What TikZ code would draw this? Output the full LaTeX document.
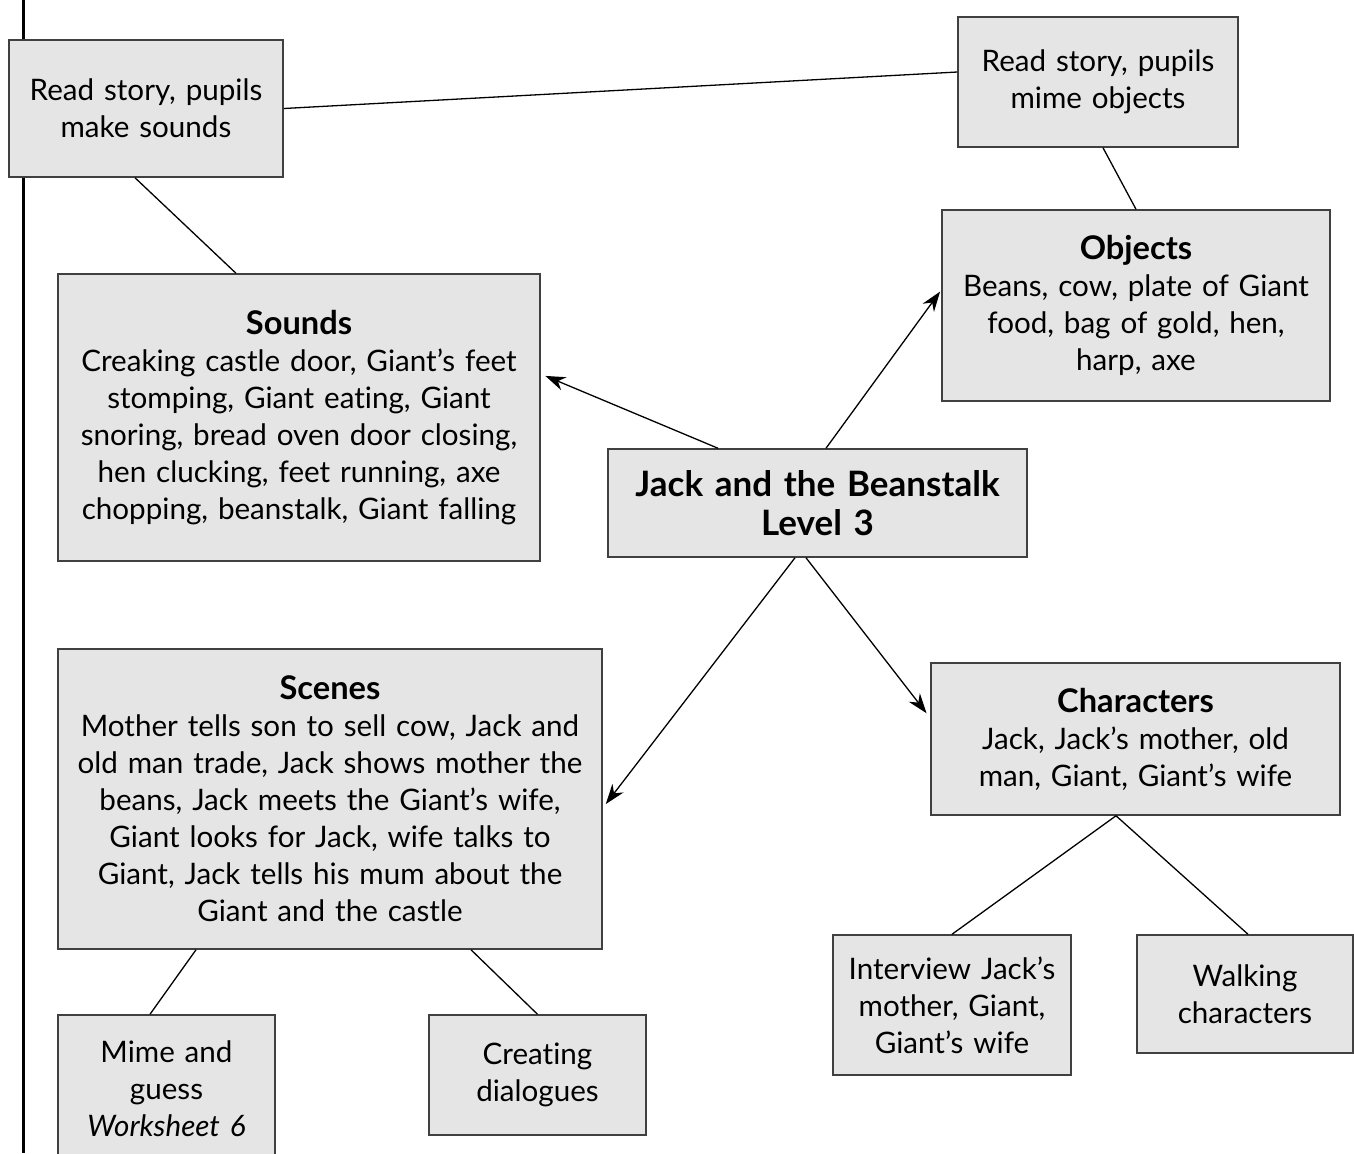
\documentclass[tikz,border=0pt]{standalone}
\usepackage{fontspec}
\setmainfont{Lato}[Ligatures={TeX,NoCommon}]
\usetikzlibrary{arrows.meta}
\definecolor{boxfill}{gray}{0.9}
\newcommand{\boxtitle}[1]{{\fontsize{16.3}{18.5}\selectfont\bfseries #1}}
\begin{document}
\begin{tikzpicture}[x=0.5pt,y=-0.5pt,>={Stealth[length=10pt,width=7pt]},
	font=\fontsize{14.8}{18.5}\selectfont,
	box/.style={draw=black!75,line width=0.75pt,fill=boxfill,inner sep=0pt,align=center},
	link/.style={line width=0.65pt}]
			\clip (0,0) rectangle (1354,1153);
			\draw[line width=1.5pt] (23,0) -- (23,1153);
			% boxes
			\node[box,text width=137pt,minimum height=68.5pt] (readsnd) at (146,108.5) {Read story, pupils\\make sounds};
			\node[box,text width=140pt,minimum height=65pt] (readmime) at (1098,82) {Read story, pupils\\mime objects};
			\node[box,text width=194pt,minimum height=95.5pt] (objects) at (1136,305.5) {\boxtitle{Objects}\\Beans, cow, plate of Giant\\food, bag of gold, hen,\\harp, axe};
			\node[box,text width=241pt,minimum height=143.5pt] (sounds) at (299,417.5) {\boxtitle{Sounds}\\Creaking castle door, Giant's feet\\stomping, Giant eating, Giant\\snoring, bread oven door closing,\\hen clucking, feet running, axe\\chopping, beanstalk, Giant falling};
			\node[box,text width=209.5pt,minimum height=54pt,font=\fontsize{17.5}{19.5}\selectfont\bfseries] (jack) at (817.5,503) {Jack and the Beanstalk\\Level 3};
			\node[box,text width=272pt,minimum height=150pt] (scenes) at (330,799) {\boxtitle{Scenes}\\Mother tells son to sell cow, Jack and\\old man trade, Jack shows mother the\\beans, Jack meets the Giant's wife,\\Giant looks for Jack, wife talks to\\Giant, Jack tells his mum about the\\Giant and the castle};
			\node[box,text width=204.5pt,minimum height=76pt] (chars) at (1135.5,739) {\boxtitle{Characters}\\Jack, Jack's mother, old\\man, Giant, Giant's wife};
			\node[box,text width=108.5pt,minimum height=74pt] (mime) at (166.5,1089) {Mime and\\guess\\\textit{Worksheet 6}};
			\node[box,text width=108.5pt,minimum height=60pt] (dialog) at (537.5,1075) {Creating\\dialogues};
			\node[box,text width=119pt,minimum height=70pt] (interview) at (952,1005) {Interview Jack's\\mother, Giant,\\Giant's wife};
			\node[box,text width=108pt,minimum height=59pt] (walking) at (1245,994) {Walking\\characters};
			% plain links
			\draw[link] (readsnd.east) -- ([yshift=5pt]readmime.west);
			\draw[link] ([xshift=-5.5pt]readsnd.south) -- ([xshift=-31.5pt]sounds.north);
			\draw[link] ([xshift=2.5pt]readmime.south) -- (objects.north);
			\draw[link] ([xshift=-67pt]scenes.south) -- ([xshift=-8.25pt]mime.north);
			\draw[link] ([xshift=70.5pt]scenes.south) -- (dialog.north);
			\draw[link] ([xshift=-9.75pt]chars.south) -- (interview.north);
			\draw[link] ([xshift=-9.75pt]chars.south) -- ([xshift=1.5pt]walking.north);
			% arrows from the title
			\draw[link,->,shorten >=2.5pt] ([xshift=-49.75pt]jack.north) -- ([yshift=21.75pt]sounds.east);
			\draw[link,->,shorten >=1pt] ([xshift=4.25pt]jack.north) -- ([yshift=7.75pt]objects.west);
			\draw[link,->,shorten >=2.5pt] ([xshift=-11.25pt]jack.south) -- ([yshift=-4.5pt]scenes.east);
			\draw[link,->,shorten >=3pt] ([xshift=-5.75pt]jack.south) -- ([yshift=10.5pt]chars.west);
\end{tikzpicture}
\end{document}
